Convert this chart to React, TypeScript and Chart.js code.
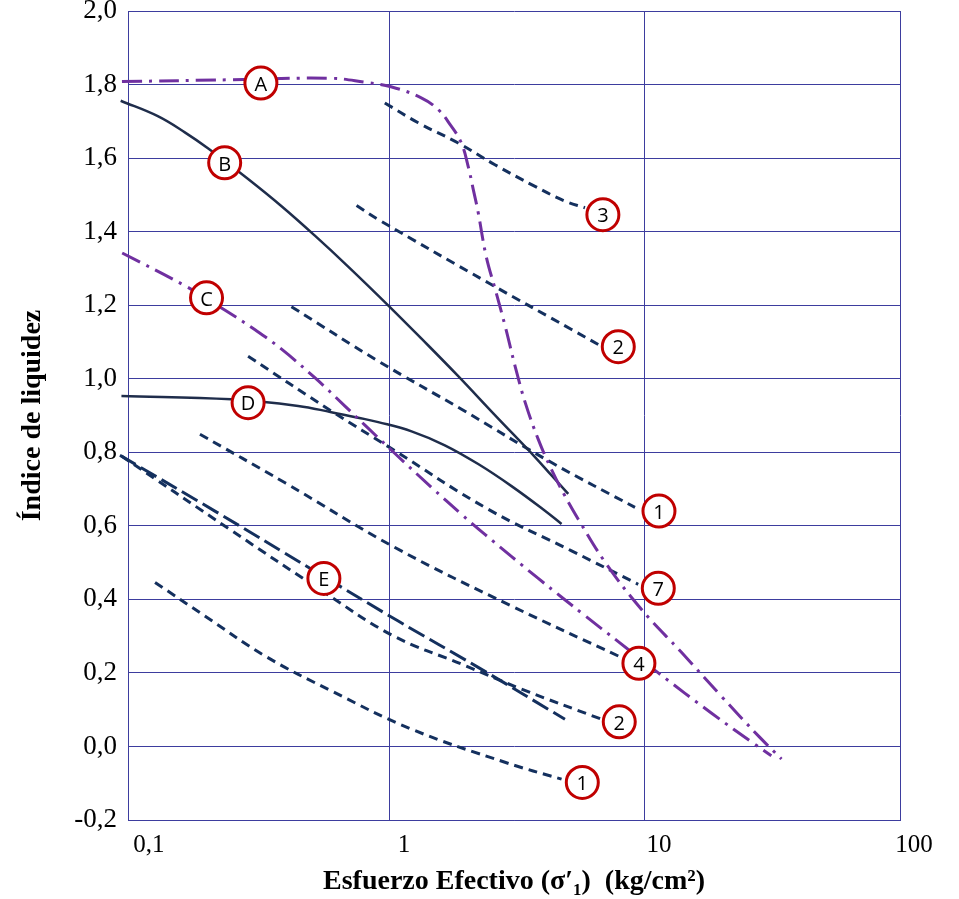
import React, { useEffect, useRef } from 'react';
import { Chart, registerables } from 'chart.js';

Chart.register(...registerables);

// ---- Axes ----
const X_MIN = 0.094;
const X_MAX = 100;
const X_TICKS = [0.1, 1, 10, 100];
const Y_MIN = -0.2;
const Y_MAX = 2.0;
const Y_STEP = 0.2;

// ---- Curves (x = effective stress kg/cm², y = liquidity index) ----
const curveA_x = [0.089, 0.239, 0.589, 0.8, 1.01, 1.327, 1.546, 1.723, 1.904, 2.028, 2.122, 2.219, 2.386, 2.588, 2.833, 3.099, 3.393, 3.817, 4.293, 4.866, 5.476, 6.98, 9.68, 13.9, 19.9, 27.9, 34.3];
const curveA_y = [1.808, 1.813, 1.817, 1.806, 1.794, 1.764, 1.732, 1.691, 1.642, 1.577, 1.515, 1.452, 1.332, 1.243, 1.142, 1.033, 0.935, 0.835, 0.754, 0.68, 0.618, 0.501, 0.373, 0.256, 0.137, 0.028, -0.034];

const curveB_x = [0.088, 0.123, 0.157, 0.194, 0.278, 0.376, 0.508, 0.686, 1.0, 1.33, 1.853, 2.581, 3.706, 4.304, 5.003];
const curveB_y = [1.756, 1.714, 1.67, 1.626, 1.543, 1.469, 1.389, 1.305, 1.195, 1.109, 1.007, 0.901, 0.787, 0.737, 0.687];

const curveC_x = [0.0892, 0.158, 0.226, 0.296, 0.375, 0.509, 0.668, 0.8, 1.049, 1.453, 1.904, 2.364, 3.817, 5.835, 7.86, 11.28, 18.2, 27.1, 31.3];
const curveC_y = [1.342, 1.252, 1.186, 1.133, 1.081, 1.002, 0.925, 0.873, 0.796, 0.705, 0.632, 0.576, 0.457, 0.355, 0.285, 0.2, 0.091, 0.005, -0.025];

const curveD_x = [0.0886, 0.239, 0.437, 0.589, 0.751, 0.9, 1.216, 1.642, 2.219, 2.998, 4.054, 4.71];
const curveD_y = [0.953, 0.944, 0.926, 0.909, 0.894, 0.882, 0.857, 0.819, 0.768, 0.708, 0.641, 0.605];

const curveE_x = [0.0874, 0.206, 0.493, 1.078, 2.219, 4.856];
const curveE_y = [0.792, 0.64, 0.482, 0.341, 0.215, 0.074];

const line3_x = [0.955, 1.291, 1.853, 2.581, 3.706, 4.856, 5.82];
const line3_y = [1.75, 1.696, 1.641, 1.582, 1.523, 1.483, 1.465];

const line2a_x = [0.74, 0.9, 2.429, 5.156, 6.56];
const line2a_y = [1.471, 1.433, 1.261, 1.134, 1.093];

const line1a_x = [0.411, 0.9, 1.909, 4.304, 9.14];
const line1a_y = [1.196, 1.048, 0.917, 0.772, 0.65];

const line7_x = [0.278, 0.59, 1.014, 2.429, 5.156, 9.41];
const line7_y = [1.061, 0.912, 0.81, 0.645, 0.532, 0.441];

const line4_x = [0.18, 0.388, 1.047, 2.998, 7.86];
const line4_y = [0.849, 0.717, 0.541, 0.382, 0.246];

const line2b_x = [0.0886, 0.236, 0.556, 1.03, 1.909, 3.28, 6.76];
const line2b_y = [0.79, 0.59, 0.418, 0.301, 0.224, 0.156, 0.074];

const line1b_x = [0.12, 0.188, 0.324, 0.59, 1.216, 2.825, 4.71];
const line1b_y = [0.446, 0.355, 0.246, 0.151, 0.047, -0.043, -0.089];

// ---- Circled labels ----
const ANN_LABELS = ['A', 'B', 'C', 'D', 'E', '3', '2', '1', '7', '4', '2', '1'];
const ANN_X = [0.312, 0.225, 0.191, 0.278, 0.551, 6.84, 7.86, 11.35, 11.28, 9.47, 7.93, 5.68];
const ANN_Y = [1.804, 1.587, 1.22, 0.935, 0.457, 1.446, 1.087, 0.64, 0.43, 0.226, 0.067, -0.098];

const X_TITLE = 'Esfuerzo Efectivo (σ′₁)  (kg/cm²)';
const Y_TITLE = 'Índice de liquidez';

const NAVY = '#14305e';
const SOLID = '#1f2d4b';
const PURPLE = '#7030a0';
const GRID = '#3d3d9e';
const RED = '#c00000';

const SHORT_DASH = [9, 6];
const LONG_DASH = [18, 6];
const DASH_DOT = [20, 7, 3, 7];

function pts(xs: number[], ys: number[]) {
  return xs.map((x, i) => ({ x, y: ys[i] }));
}

function mk(label: string, xs: number[], ys: number[], color: string, width: number, dash: number[]) {
  return {
    label,
    data: pts(xs, ys),
    borderColor: color,
    backgroundColor: color,
    borderWidth: width,
    borderDash: dash,
    borderCapStyle: 'butt',
    pointRadius: 0,
    pointHoverRadius: 0,
    fill: false,
    tension: 0.4,
    clip: false,
  };
}

const circlePlugin = {
  id: 'circleLabels',
  afterDatasetsDraw(chart: any) {
    const { ctx, scales } = chart;
    const xs = scales.x;
    const ys = scales.y;
    ctx.save();
    ANN_LABELS.forEach((t, i) => {
      const px = xs.getPixelForValue(ANN_X[i]);
      const py = ys.getPixelForValue(ANN_Y[i]);
      ctx.beginPath();
      ctx.arc(px, py, 16, 0, Math.PI * 2);
      ctx.fillStyle = '#ffffff';
      ctx.fill();
      ctx.lineWidth = 3;
      ctx.strokeStyle = RED;
      ctx.stroke();
      ctx.fillStyle = '#000000';
      ctx.font = '20px "Open Sans"';
      ctx.textAlign = 'center';
      ctx.textBaseline = 'middle';
      ctx.fillText(t, px, py + 2);
    });
    ctx.restore();
  },
};

export default function App() {
  const ref = useRef<HTMLCanvasElement | null>(null);

  useEffect(() => {
    if (!ref.current) return;
    const chart = new Chart(ref.current, {
      type: 'line',
      data: {
        datasets: [
          mk('A', curveA_x, curveA_y, PURPLE, 3, DASH_DOT),
          mk('B', curveB_x, curveB_y, SOLID, 2.5, []),
          mk('C', curveC_x, curveC_y, PURPLE, 3, DASH_DOT),
          mk('D', curveD_x, curveD_y, SOLID, 2.5, []),
          mk('E', curveE_x, curveE_y, NAVY, 3, LONG_DASH),
          mk('3', line3_x, line3_y, NAVY, 3, SHORT_DASH),
          mk('2', line2a_x, line2a_y, NAVY, 3, SHORT_DASH),
          mk('1', line1a_x, line1a_y, NAVY, 3, SHORT_DASH),
          mk('7', line7_x, line7_y, NAVY, 3, SHORT_DASH),
          mk('4', line4_x, line4_y, NAVY, 3, SHORT_DASH),
          mk('2b', line2b_x, line2b_y, NAVY, 3, SHORT_DASH),
          mk('1b', line1b_x, line1b_y, NAVY, 3, SHORT_DASH),
        ] as any,
      },
      options: {
        responsive: false,
        animation: false,
        devicePixelRatio: 1,
        layout: { padding: { left: 0, right: 59, top: 11, bottom: 0 } },
        plugins: {
          legend: { display: false },
          tooltip: { enabled: false },
        },
        scales: {
          x: {
            type: 'logarithmic',
            min: X_MIN,
            max: X_MAX,
            afterBuildTicks: (s: any) => {
              s.ticks = X_TICKS.map((v) => ({ value: v }));
            },
            afterFit: (s: any) => {
              s.height = 79;
            },
            ticks: {
              autoSkip: false,
              maxRotation: 0,
              minRotation: 0,
              padding: 10,
              labelOffset: 14,
              color: '#000',
              font: { family: '"Liberation Serif", "Times New Roman", serif', size: 25 },
              callback: (v: any) => String(v).replace('.', ','),
            },
            grid: {
              drawTicks: false,
              lineWidth: 1,
              color: (c: any) => (c.tick && c.tick.value < 0.5 ? 'rgba(0,0,0,0)' : GRID),
            },
            border: { color: GRID, width: 1 },
            title: {
              display: true,
              text: X_TITLE,
              color: '#000',
              font: { family: '"Liberation Serif", "Times New Roman", serif', size: 28, weight: 'bold' },
              padding: { top: 0, bottom: 0 },
            },
          },
          y: {
            type: 'linear',
            min: Y_MIN,
            max: Y_MAX,
            afterFit: (s: any) => {
              s.width = 128;
              s.paddingTop = 0;
              s.paddingBottom = 0;
            },
            ticks: {
              stepSize: Y_STEP,
              padding: 11,
              color: '#000',
              font: { family: '"Liberation Serif", "Times New Roman", serif', size: 27 },
              callback: (v: any) => Number(v).toFixed(1).replace('.', ','),
            },
            grid: { drawTicks: false, lineWidth: 1, color: GRID },
            border: { color: GRID, width: 1 },
            title: {
              display: true,
              text: Y_TITLE,
              color: '#000',
              font: { family: '"Liberation Serif", "Times New Roman", serif', size: 28, weight: 'bold' },
              padding: { top: 16, bottom: 0 },
            },
          },
        },
      } as any,
      plugins: [circlePlugin],
    });
    return () => chart.destroy();
  }, []);

  return (
    <div style={{ position: 'absolute', left: 0, top: 0, width: 959, height: 899, background: '#fff' }}>
      <canvas ref={ref} width={959} height={899} style={{ display: 'block' }} />
    </div>
  );
}
